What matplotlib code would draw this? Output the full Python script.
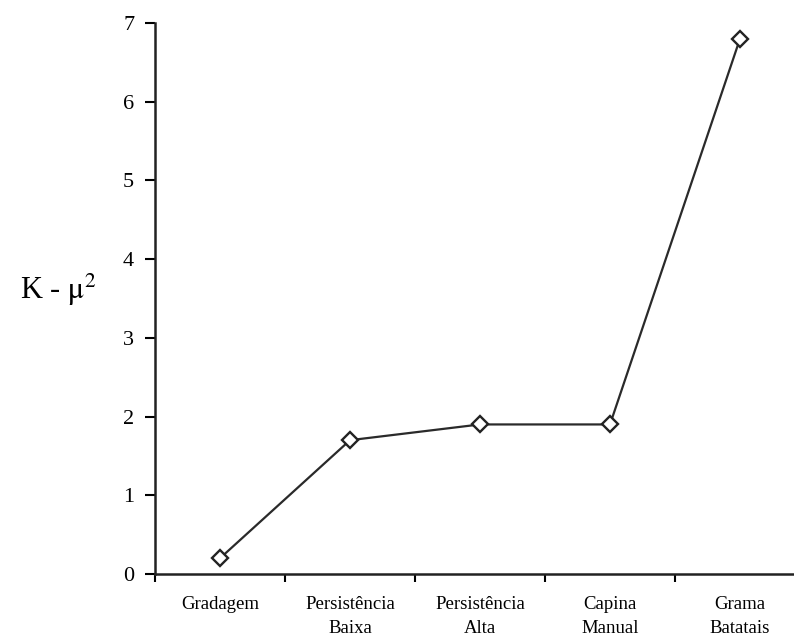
import numpy as np
import matplotlib.pyplot as plt

# dados
tratamentos = ["Gradagem", "Persistência\nBaixa", "Persistência\nAlta",
               "Capina\nManual", "Grama\nBatatais"]
valores = [0.2, 1.7, 1.9, 1.9, 6.8]
y_ticks = [0, 1, 2, 3, 4, 5, 6, 7]

plt.rcParams["font.family"] = ["Liberation Serif", "DejaVu Serif"]
plt.rcParams["mathtext.fontset"] = "stix"

fig = plt.figure(figsize=(7.94, 6.41), dpi=100)
ax = fig.add_axes([155 / 794, 1 - 574 / 641, 650 / 794, 551 / 641])

x = np.arange(len(tratamentos))
ax.plot(x, valores, color="#2a2a2a", linewidth=1.6, marker="D",
        markersize=8.5, markerfacecolor="white", markeredgecolor="#222222",
        markeredgewidth=1.7, clip_on=False, zorder=3)

ax.set_xlim(-0.5, len(tratamentos) - 0.5)
ax.set_ylim(0, 7)

# marcas entre categorias, rótulos no centro
ax.set_xticks(np.arange(len(tratamentos) + 1) - 0.5)
ax.set_xticklabels([])
ax.set_xticks(x, minor=True)
ax.set_xticklabels(tratamentos, minor=True, fontsize=13.5, linespacing=1.55,
                   va="top")
ax.tick_params(axis="x", which="minor", length=0, pad=16)
ax.tick_params(axis="x", which="major", direction="out", length=6, width=1.5)

ax.set_yticks(y_ticks)
ax.tick_params(axis="y", direction="out", length=7, width=1.5,
               labelsize=16, pad=8)

for lado in ["top", "right"]:
    ax.spines[lado].set_visible(False)
for lado in ["left", "bottom"]:
    ax.spines[lado].set_linewidth(1.8)
    ax.spines[lado].set_color("#222222")

fig.text(58 / 794, 1 - 290 / 641, r"K - $\mathrm{\mu}^2$", fontsize=22,
         ha="center", va="center")

fig.savefig("out.png", dpi=100)
